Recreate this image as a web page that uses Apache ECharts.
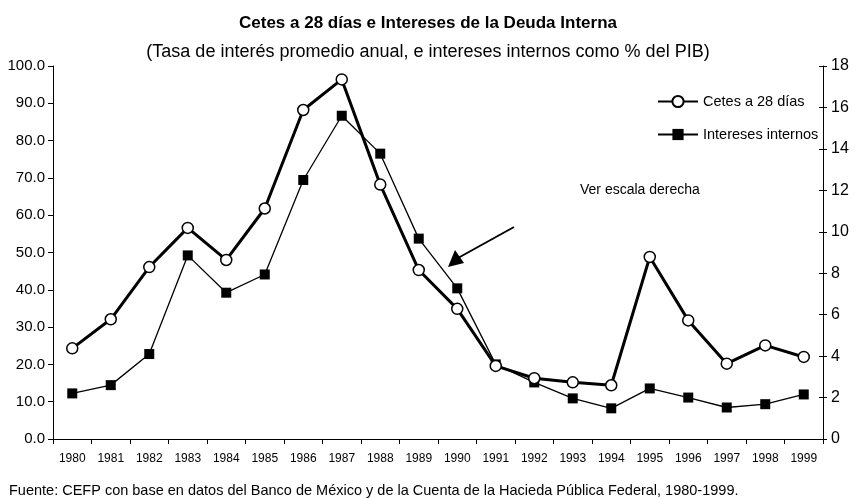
<!DOCTYPE html>
<html>
<head>
<meta charset="utf-8">
<script src="https://cdn.jsdelivr.net/npm/echarts@6/dist/echarts.min.js"></script>
<style>
  html, body { margin: 0; padding: 0; background: #fff; }
  #chart { width: 856px; height: 498px; }
</style>
</head>
<body>
<div id="chart"></div>
<script>
// datos
const years = ['1980', '1981', '1982', '1983', '1984', '1985', '1986', '1987', '1988', '1989',
  '1990', '1991', '1992', '1993', '1994', '1995', '1996', '1997', '1998', '1999']
const cetes = [24.3, 32.1, 46.1, 56.6, 48.0, 61.8, 88.2, 96.4, 68.2, 45.3,
  34.9, 19.6, 16.3, 15.2, 14.4, 48.8, 31.8, 20.2, 25.1, 22.0]
const intereses = [2.2, 2.6, 4.1, 8.86, 7.06, 7.94, 12.5, 15.6, 13.77, 9.67,
  7.27, 3.6, 2.73, 1.96, 1.48, 2.44, 2.0, 1.52, 1.68, 2.15]
const leftTicks = { min: 0, max: 100, interval: 10 }
const rightTicks = { min: 0, max: 18, interval: 2 }

const font = "'Liberation Sans Narrow', 'Liberation Sans', Arial, sans-serif"

const myChart = echarts.init(document.getElementById('chart'))
const option = {
  backgroundColor: '#fff',
  animation: false,
  textStyle: { fontFamily: font, color: '#000' },
  title: [
    {
      text: 'Cetes a 28 días e Intereses de la Deuda Interna',
      left: 'center',
      top: 10,
      textStyle: { fontFamily: font, fontSize: 17, fontWeight: 'bold', color: '#000' }
    },
    {
      text: '(Tasa de interés promedio anual, e intereses internos como % del PIB)',
      left: 'center',
      top: 38,
      textStyle: { fontFamily: font, fontSize: 18, fontWeight: 'normal', color: '#000' }
    },
    {
      text: 'Fuente: CEFP con base en datos del Banco de México y de la Cuenta de la Hacieda Pública Federal, 1980-1999.',
      left: 4,
      top: 478,
      textStyle: { fontFamily: font, fontSize: 14.5, fontWeight: 'normal', color: '#000' }
    }
  ],
  legend: {
    orient: 'vertical',
    left: 652,
    top: 89,
    itemGap: 18,
    itemWidth: 40,
    itemHeight: 14,
    textStyle: { fontFamily: font, fontSize: 14.5, color: '#000' },
    data: ['Cetes a 28 días', 'Intereses internos']
  },
  grid: { left: 53, right: 33, top: 66, bottom: 59 },
  xAxis: {
    type: 'category',
    data: years,
    boundaryGap: true,
    axisLine: { lineStyle: { color: '#000', width: 1 } },
    axisTick: { show: true, length: 5, lineStyle: { color: '#000' } },
    axisLabel: { fontFamily: font, fontSize: 12, color: '#000', margin: 14 }
  },
  yAxis: [
    {
      type: 'value',
      min: leftTicks.min,
      max: leftTicks.max,
      interval: leftTicks.interval,
      axisLine: { show: true, lineStyle: { color: '#000' } },
      axisTick: { show: true, length: 5, lineStyle: { color: '#000' } },
      splitLine: { show: false },
      axisLabel: {
        fontFamily: font, fontSize: 15, color: '#000', margin: 8,
        formatter: v => v.toFixed(1)
      }
    },
    {
      type: 'value',
      min: rightTicks.min,
      max: rightTicks.max,
      interval: rightTicks.interval,
      position: 'right',
      axisLine: { show: true, lineStyle: { color: '#000' } },
      axisTick: { show: true, length: 4, lineStyle: { color: '#000' } },
      splitLine: { show: false },
      axisLabel: { fontFamily: font, fontSize: 16, color: '#000', margin: 8 }
    },
    {
      // solo para las marcas hacia dentro del eje derecho
      type: 'value',
      min: rightTicks.min,
      max: rightTicks.max,
      interval: rightTicks.interval,
      position: 'right',
      axisLine: { show: false },
      axisTick: { show: true, inside: true, length: 4, lineStyle: { color: '#000' } },
      splitLine: { show: false },
      axisLabel: { show: false }
    }
  ],
  graphic: [
    {
      type: 'text',
      left: 580,
      top: 183,
      style: { text: 'Ver escala derecha', font: '14px ' + font, fill: '#000' }
    },
    {
      type: 'line',
      shape: { x1: 514, y1: 227, x2: 458, y2: 258 },
      style: { stroke: '#000', lineWidth: 2 }
    },
    {
      type: 'polygon',
      shape: { points: [[448, 267], [455, 250], [464, 263]] },
      style: { fill: '#000' }
    }
  ],
  series: [
    {
      name: 'Cetes a 28 días',
      type: 'line',
      yAxisIndex: 0,
      data: cetes,
      symbol: 'circle',
      symbolSize: 11,
      lineStyle: { color: '#000', width: 3 },
      itemStyle: { color: '#fff', borderColor: '#000', borderWidth: 1.5 },
      z: 3
    },
    {
      name: 'Intereses internos',
      type: 'line',
      yAxisIndex: 1,
      data: intereses,
      symbol: 'rect',
      symbolSize: 10,
      lineStyle: { color: '#000', width: 1.3 },
      itemStyle: { color: '#000' },
      z: 2
    }
  ]
}
myChart.setOption(option)
</script>
</body>
</html>
